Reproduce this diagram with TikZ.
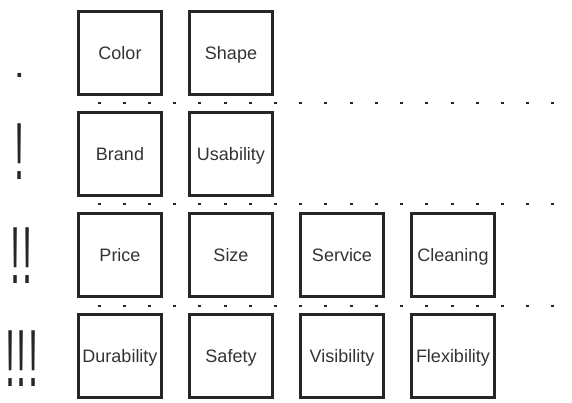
\documentclass[tikz,border=0pt]{standalone}
\usepackage{fontspec}
\setmainfont{Liberation Sans}
\usetikzlibrary{positioning}

\begin{document}
\begin{tikzpicture}[x=1pt,y=-1pt,
  factor/.style={draw=black!85,line width=2.6pt,minimum size=83.4pt,inner sep=0pt,
    text=black!80,text height=13pt,text depth=0pt,font=\fontsize{18}{18}\selectfont},
  level/.style={anchor=base,inner sep=0pt,xscale=0.45,text=black!85,
    font=\fontsize{81}{81}\selectfont},
  divider/.style={draw=black!85,line width=2pt,dash pattern=on 3pt off 22.22pt}]
\useasboundingbox (0,0) rectangle (572,403);
% importance marks
\node[anchor=base,inner sep=0pt,text=black!85,font=\fontsize{38}{38}\selectfont] (L1) at (20,78) {.};
\node[level] (L2) at (20,180) {!};
\node[level] (L3) at (22,283) {!\kern4pt!};
\node[level] (L4) at (22,386) {!\kern4pt!\kern4pt!};
% factors, one row per level
\node[factor] (color) at (120,53) {Color};
\node[factor] (shape) at (231,53) {Shape};
\node[factor] (brand) at (120,154) {Brand};
\node[factor] (usability) at (231,154) {Usability};
\node[factor] (price) at (120,255) {Price};
\node[factor] (size) at (231,255) {Size};
\node[factor] (service) at (342,255) {Service};
\node[factor] (cleaning) at (453,255) {Cleaning};
\node[factor] (durability) at (120,356) {Durability};
\node[factor] (safety) at (231,356) {Safety};
\node[factor] (visibility) at (342,356) {Visibility};
\node[factor] (flexibility) at (453,356) {Flexibility};
% dotted dividers between the rows
\foreach \y/\n in {103.5/1,204.5/2,305.5/3}{
  \coordinate (D\n a) at (97.5,\y);
  \coordinate (D\n b) at (556,\y);
  \draw[divider] (D\n a) -- (D\n b);
}
\end{tikzpicture}
\end{document}
